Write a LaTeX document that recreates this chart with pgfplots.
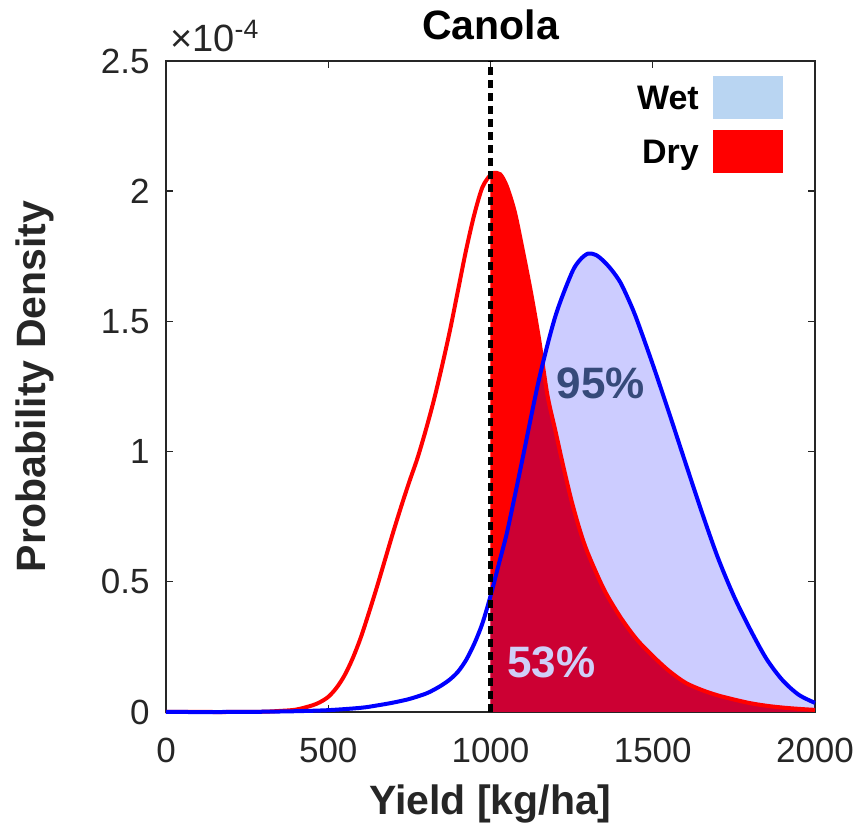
\documentclass[border=0pt]{standalone}
\usepackage{fontspec}
\setmainfont{Liberation Sans}
\usepackage{pgfplots}
\usepackage{pgfplotstable}
\pgfplotsset{compat=1.18}

\definecolor{axisgray}{HTML}{262626}
\definecolor{wetleg}{HTML}{B9D5F2}
\definecolor{pctdark}{HTML}{364A7A}
\definecolor{pctlight}{HTML}{CFCFF8}

% densities in units of 1e-4
\pgfplotstableread{
x y
0 0
100 0
200 0
300 0.001
350 0.004
400 0.009
450 0.025
475 0.038
500 0.058
525 0.092
550 0.140
575 0.205
600 0.285
625 0.380
650 0.480
675 0.585
700 0.690
725 0.790
750 0.885
775 0.975
800 1.080
825 1.195
850 1.325
875 1.465
900 1.620
925 1.775
950 1.910
975 2.015
1000 2.063
1010 2.070
1030 2.065
1050 2.020
1075 1.920
1100 1.770
1125 1.610
1150 1.430
1175 1.220
1200 1.080
1225 0.940
1250 0.810
1275 0.700
1300 0.610
1350 0.470
1400 0.365
1450 0.280
1500 0.215
1550 0.158
1600 0.113
1650 0.085
1700 0.064
1750 0.048
1800 0.034
1850 0.024
1900 0.017
1950 0.012
2000 0.008
}\drytable

\pgfplotstableread{
x y
0 0
200 0
300 0.001
400 0.003
500 0.007
600 0.016
650 0.025
700 0.036
750 0.050
800 0.070
825 0.085
850 0.103
875 0.125
900 0.155
925 0.200
950 0.262
975 0.340
1000 0.445
1025 0.565
1050 0.685
1075 0.830
1100 0.980
1150 1.280
1200 1.520
1250 1.685
1275 1.735
1300 1.760
1325 1.755
1350 1.730
1375 1.695
1400 1.650
1425 1.585
1450 1.510
1500 1.335
1550 1.150
1600 0.960
1650 0.772
1700 0.595
1750 0.445
1800 0.318
1850 0.205
1900 0.122
1950 0.066
2000 0.035
}\wettable

\begin{document}
\begin{tikzpicture}
\path[use as bounding box] (-83pt,-55.5pt) rectangle (346.5pt,356pt);
\begin{axis}[
    at={(0pt,0pt)}, anchor=south west,
    scale only axis,
    width=324.5pt, height=325.5pt,
    xmin=0, xmax=2000,
    ymin=0, ymax=2.5,
    xtick={0,500,1000,1500,2000},
    ytick={0,0.5,1,1.5,2,2.5},
    clip=false,
    tick align=inside,
    major tick length=3.5pt,
    axis line style={axisgray, line width=0.7pt},
    every tick/.style={axisgray, line width=0.7pt},
    /pgf/number format/assume math mode=true,
    /pgf/number format/1000 sep={},
    ticklabel style={font=\fontsize{17.5}{20}\selectfont, text=axisgray},
    xticklabel style={inner sep=0pt, yshift=-13pt},
    yticklabel style={inner sep=0pt, xshift=-8pt},
    title={Canola},
    every axis title/.style={at={(axis description cs:0.5,1.0323)}, anchor=base,
        inner sep=0pt, font=\bfseries\fontsize{20.5}{24}\selectfont},
    xlabel={Yield [kg/ha]},
    ylabel={Probability Density},
    label style={font=\bfseries\fontsize{20.5}{24}\selectfont, text=axisgray},
    xlabel style={at={(axis description cs:0.5,-0.1582)}, anchor=base, inner sep=0pt},
    ylabel style={at={(axis description cs:-0.1864,0.5)}, anchor=base, inner sep=0pt},
    legend plot pos=right,
    legend cell align=right,
    legend style={at={(axis description cs:1,1)}, anchor=north east,
        xshift=-16pt, yshift=-7.5pt, draw=none, fill=none, inner sep=0pt,
        row sep=5.5pt, column sep=7pt,
        font=\bfseries\fontsize{17}{20}\selectfont,
        nodes={inner sep=0pt}},
]
% shaded areas right of the 1000 kg/ha threshold
\addplot[draw=none, fill=red, forget plot, smooth,
    restrict x to domain=1000:2000] table {\drytable} \closedcycle;
\addplot[draw=none, fill=blue, fill opacity=0.2, forget plot, smooth,
    restrict x to domain=1000:2000] table {\wettable} \closedcycle;

% density curves
\addplot[red, line width=2pt, smooth, forget plot] table {\drytable};
\addplot[blue, line width=2pt, smooth, forget plot] table {\wettable};

% threshold
\addplot[black, line width=2.2pt, dash pattern=on 4pt off 2.5pt, forget plot]
    coordinates {(1000,0) (1000,2.5)};

\addlegendimage{legend image code/.code={\fill[wetleg] (0pt,-9.5pt) rectangle (34.5pt,11.5pt);}}
\addlegendentry{Wet}
\addlegendimage{legend image code/.code={\fill[red] (0pt,-9.5pt) rectangle (34.5pt,11.5pt);}}
\addlegendentry{Dry}

\node[font=\bfseries\fontsize{22}{26}\selectfont, text=pctdark] at (axis cs:1340,1.262) {95\%};
\node[font=\bfseries\fontsize{22}{26}\selectfont, text=pctlight] at (axis cs:1188,0.192) {53\%};

\node[anchor=base west, inner sep=0pt, text=axisgray, font=\fontsize{19}{20}\selectfont]
    at (axis description cs:0.006,1.0146) {×10\textsuperscript{-4}};
\end{axis}
\end{tikzpicture}
\end{document}
